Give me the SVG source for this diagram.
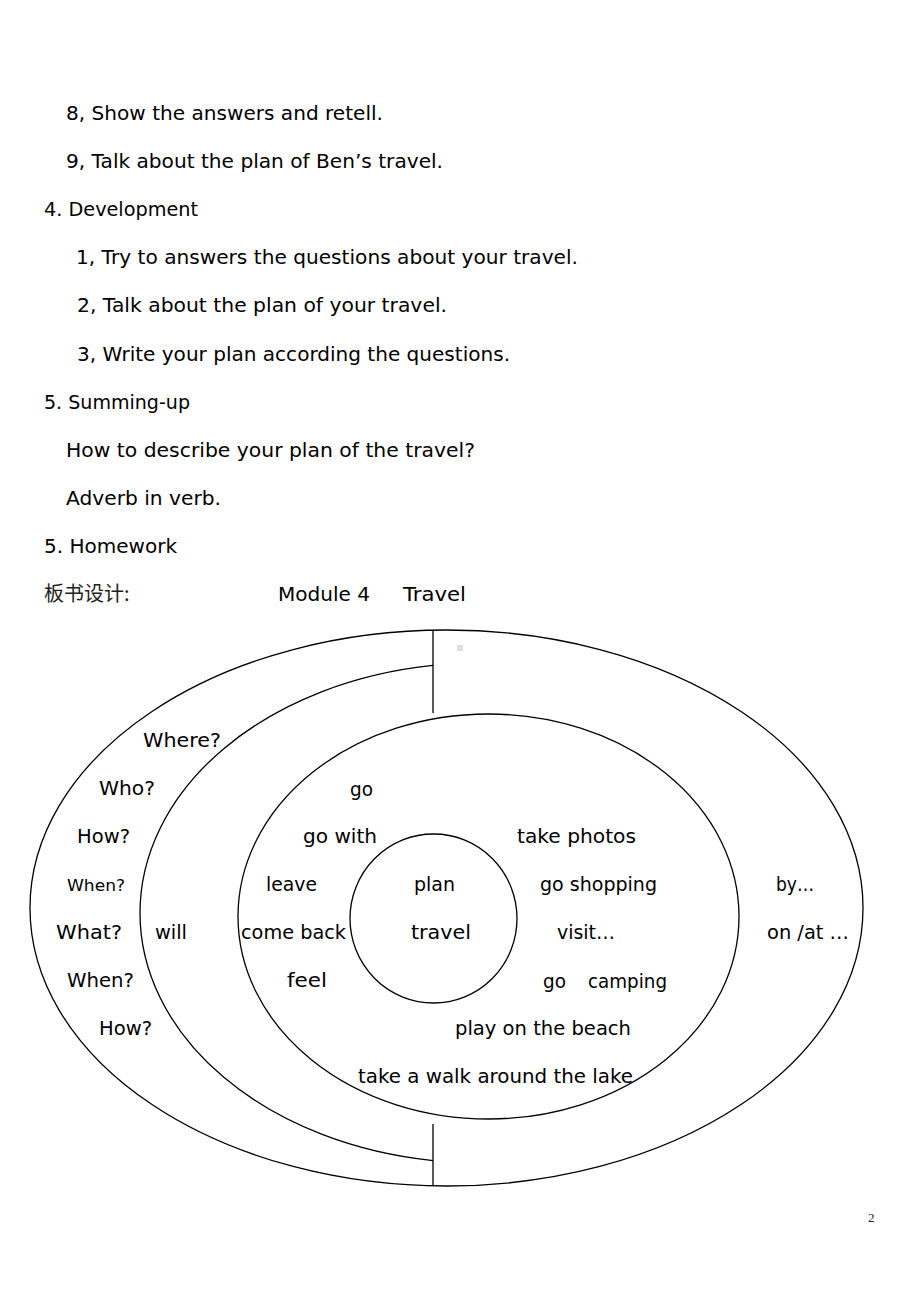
<svg xmlns="http://www.w3.org/2000/svg" width="920" height="1302" viewBox="0 0 920 1302">
<style>
.t{font-family:"DejaVu Sans","Liberation Sans",sans-serif;font-size:20px;fill:#000}
.s{font-size:16px}
.cn{font-family:"Noto Sans CJK SC","Liberation Serif",serif;font-size:20px;fill:#222}
.pg{font-family:"Liberation Serif",serif;font-size:13px;fill:#222}
.ln{fill:none;stroke:#000;stroke-width:1.3}
</style>
<rect width="920" height="1302" fill="#fff"/>
<g id="text-body">
<text class="t" x="66" y="120" textLength="317" lengthAdjust="spacingAndGlyphs">8, Show the answers and retell.</text>
<text class="t" x="66" y="168" textLength="377" lengthAdjust="spacingAndGlyphs">9, Talk about the plan of Ben’s travel.</text>
<text class="t" x="44" y="216" textLength="154" lengthAdjust="spacingAndGlyphs">4. Development</text>
<text class="t" x="76" y="264" textLength="502" lengthAdjust="spacingAndGlyphs">1, Try to answers the questions about your travel.</text>
<text class="t" x="77" y="312" textLength="370" lengthAdjust="spacingAndGlyphs">2, Talk about the plan of your travel.</text>
<text class="t" x="77" y="361" textLength="433" lengthAdjust="spacingAndGlyphs">3, Write your plan according the questions.</text>
<text class="t" x="44" y="409" textLength="146" lengthAdjust="spacingAndGlyphs">5. Summing-up</text>
<text class="t" x="66" y="457" textLength="409" lengthAdjust="spacingAndGlyphs">How to describe your plan of the travel?</text>
<text class="t" x="66" y="505" textLength="155" lengthAdjust="spacingAndGlyphs">Adverb in verb.</text>
<text class="t" x="44" y="553" textLength="133" lengthAdjust="spacingAndGlyphs">5. Homework</text>
<text class="cn" x="44" y="601">板书设计:</text>
<text class="t" x="278" y="601" textLength="92" lengthAdjust="spacingAndGlyphs">Module 4</text>
<text class="t" x="403" y="601" textLength="63" lengthAdjust="spacingAndGlyphs">Travel</text>
</g>
<g id="outer-ellipse"><ellipse class="ln" cx="446.5" cy="908" rx="416.5" ry="278"/></g>
<g id="middle-arc"><path class="ln" d="M433,665.4 A340,250 0 0,0 433,1160.6"/></g>
<g id="inner-ellipse"><ellipse class="ln" cx="488.5" cy="916.5" rx="250.5" ry="202.5"/></g>
<g id="center-circle"><ellipse class="ln" cx="433.5" cy="918.5" rx="83.5" ry="84.5"/></g>
<g id="connectors">
<line class="ln" x1="433" y1="630" x2="433" y2="713"/>
<line class="ln" x1="433" y1="1124" x2="433" y2="1186"/>
</g>
<rect x="457" y="645" width="6" height="6" fill="#ddd"/>
<g id="labels">
<text class="t" x="143" y="747" textLength="78" lengthAdjust="spacingAndGlyphs">Where?</text>
<text class="t" x="99" y="795" textLength="56" lengthAdjust="spacingAndGlyphs">Who?</text>
<text class="t" x="350" y="796" textLength="23" lengthAdjust="spacingAndGlyphs">go</text>
<text class="t" x="77" y="843" textLength="53" lengthAdjust="spacingAndGlyphs">How?</text>
<text class="t" x="303" y="843" textLength="74" lengthAdjust="spacingAndGlyphs">go with</text>
<text class="t" x="517" y="843" textLength="119" lengthAdjust="spacingAndGlyphs">take photos</text>
<text class="t s" x="67" y="891" textLength="58" lengthAdjust="spacingAndGlyphs">When?</text>
<text class="t" x="266" y="891" textLength="51" lengthAdjust="spacingAndGlyphs">leave</text>
<text class="t" x="414" y="891" textLength="41" lengthAdjust="spacingAndGlyphs">plan</text>
<text class="t" x="540" y="891" textLength="117" lengthAdjust="spacingAndGlyphs">go shopping</text>
<text class="t" x="776" y="891" textLength="38" lengthAdjust="spacingAndGlyphs">by…</text>
<text class="t" x="56" y="939" textLength="66" lengthAdjust="spacingAndGlyphs">What?</text>
<text class="t" x="155" y="939" textLength="32" lengthAdjust="spacingAndGlyphs">will</text>
<text class="t" x="241" y="939" textLength="105" lengthAdjust="spacingAndGlyphs">come back</text>
<text class="t" x="411" y="939" textLength="60" lengthAdjust="spacingAndGlyphs">travel</text>
<text class="t" x="557" y="939" textLength="58" lengthAdjust="spacingAndGlyphs">visit…</text>
<text class="t" x="767" y="939" textLength="82" lengthAdjust="spacingAndGlyphs">on /at …</text>
<text class="t" x="67" y="987" textLength="67" lengthAdjust="spacingAndGlyphs">When?</text>
<text class="t" x="287" y="987" textLength="40" lengthAdjust="spacingAndGlyphs">feel</text>
<text class="t" x="543" y="988" textLength="23" lengthAdjust="spacingAndGlyphs">go</text>
<text class="t" x="588" y="988" textLength="79" lengthAdjust="spacingAndGlyphs">camping</text>
<text class="t" x="99" y="1035" textLength="53" lengthAdjust="spacingAndGlyphs">How?</text>
<text class="t" x="455" y="1035" textLength="176" lengthAdjust="spacingAndGlyphs">play on the beach</text>
<text class="t" x="358" y="1083" textLength="275" lengthAdjust="spacingAndGlyphs">take a walk around the lake</text>
</g>
<text class="pg" x="868" y="1222">2</text>
</svg>
